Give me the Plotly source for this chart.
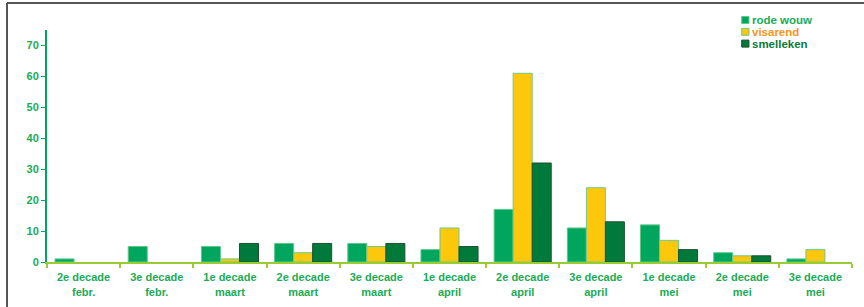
import plotly.graph_objects as go

categories = ["2e decade<br>febr.", "3e decade<br>febr.", "1e decade<br>maart", "2e decade<br>maart",
              "3e decade<br>maart", "1e decade<br>april", "2e decade<br>april", "3e decade<br>april",
              "1e decade<br>mei", "2e decade<br>mei", "3e decade<br>mei"]
rode_wouw = [1, 5, 5, 6, 6, 4, 17, 11, 12, 3, 1]
visarend = [0, 0, 1, 3, 5, 11, 61, 24, 7, 2, 4]
smelleken = [0, 0, 6, 6, 6, 5, 32, 13, 4, 2, 0]
y_ticks = [0, 10, 20, 30, 40, 50, 60, 70]

series = [
    ("rode wouw", rode_wouw, "#00A65D", "#5cc98a", "#1aab55"),
    ("visarend", visarend, "#FDC70C", "#6cc98c", "#F7941D"),
    ("smelleken", smelleken, "#007A3A", "#1f4f30", "#0a7a3c"),
]

FONT = "Liberation Sans, Arial, sans-serif"
TXT = "#1aab55"

fig = go.Figure()
for name, vals, fill, line, tcol in series:
    fig.add_trace(go.Bar(x=categories, y=vals, name=name,
                         marker=dict(color=fill,
                                     line=dict(color=line, width=[1 if v > 0 else 0 for v in vals])),
                         showlegend=False))

# legend drawn manually for tight spacing
PLOT_H = 232.0
for i, (name, vals, fill, line, tcol) in enumerate(series):
    yc = (262 - (20 + i * 11.8)) / PLOT_H
    fig.add_shape(type="rect", xref="paper", yref="paper",
                  x0=0.863, x1=0.872, y0=yc - 3.5 / PLOT_H, y1=yc + 3.5 / PLOT_H,
                  fillcolor=fill, line=dict(color=line, width=1))
    fig.add_annotation(xref="paper", yref="paper", x=0.874, y=yc, xanchor="left", yanchor="middle",
                       text="<b>%s</b>" % name, showarrow=False, borderpad=0,
                       font=dict(family=FONT, size=11.5, color=tcol))

# outer frame
fig.add_shape(type="line", xref="paper", yref="paper", x0=-0.0497, x1=-0.0497, y0=-0.25, y1=1.116,
              line=dict(color="#555555", width=2))
fig.add_shape(type="line", xref="paper", yref="paper", x0=-0.0497, x1=1.02, y0=1.116, y1=1.116,
              line=dict(color="#555555", width=2))

fig.update_layout(
    width=864, height=307,
    margin=dict(l=47, r=12, t=30, b=45),
    paper_bgcolor="white", plot_bgcolor="white",
    barmode="group", bargap=0.22, bargroupgap=0,
    font=dict(family=FONT, size=11, color=TXT),
)
fig.update_xaxes(showline=True, linecolor="#99cc33", linewidth=2, automargin=False,
                 ticks="outside", tickson="boundaries", ticklen=4, tickcolor="#99cc33", tickwidth=2,
                 ticklabelstandoff=4,
                 tickfont=dict(family=FONT, size=11, color=TXT), showgrid=False,
                 ticktext=["<b>%s</b>" % c for c in categories], tickvals=categories)
fig.update_yaxes(range=[0, 75], tickvals=y_ticks, ticktext=["<b>%d</b>" % v for v in y_ticks],
                 showline=True, linecolor="#00A65D", linewidth=2, automargin=False,
                 ticks="outside", ticklen=4, tickcolor="#00A65D", tickwidth=1,
                 tickfont=dict(family=FONT, size=11, color=TXT), showgrid=False, zeroline=False)

fig.write_html("out.html", config={"displayModeBar": False},
               post_script="document.body.style.margin='0';document.body.style.overflow='hidden';")
